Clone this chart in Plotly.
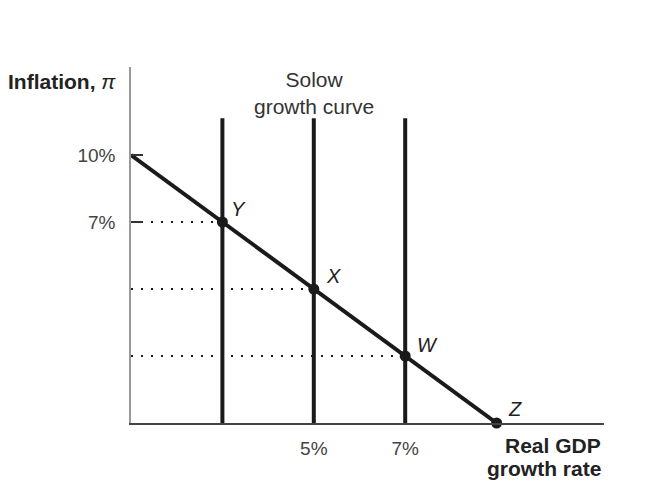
import plotly.graph_objects as go

# growth rate (%) and inflation (%) along the aggregate demand line
ad_growth = [1, 3, 5, 7, 9]
ad_inflation = [10, 7, 4, 1, -2]

# labelled points on the line
point_names = ["Y", "X", "W", "Z"]
point_growth = [3, 5, 7, 9]
point_inflation = [7, 4, 1, -2]

# Solow growth curves (vertical lines)
solow_growth = [3, 5, 7]
solow_top = 11.65
axis_floor = -2

y_tickvals = [10, 7]
y_ticktext = ["10%", "7%"]
x_tickvals = [5, 7]
x_ticktext = ["5%", "7%"]

INK = "#1a1a1a"
FONT = "Liberation Sans, Arial, sans-serif"

fig = go.Figure()

# dotted guides from the inflation axis to Y, X, W
for g, inf in zip(point_growth[:3], point_inflation[:3]):
    fig.add_trace(go.Scatter(
        x=[ad_growth[0], g], y=[inf, inf], mode="lines",
        line=dict(color=INK, width=2, dash="2px,8px"),
        hoverinfo="skip", showlegend=False,
    ))

# Solow growth curves
for g in solow_growth:
    fig.add_trace(go.Scatter(
        x=[g, g], y=[axis_floor, solow_top], mode="lines",
        line=dict(color=INK, width=4),
        hoverinfo="skip", showlegend=False,
    ))

# aggregate demand line
fig.add_trace(go.Scatter(
    x=ad_growth, y=ad_inflation, mode="lines",
    line=dict(color=INK, width=4),
    hoverinfo="skip", showlegend=False, cliponaxis=False,
))

# points
fig.add_trace(go.Scatter(
    x=point_growth, y=point_inflation, mode="markers",
    marker=dict(color=INK, size=11),
    hoverinfo="skip", showlegend=False, cliponaxis=False,
))

# point labels
offsets = {"Y": (16, -13), "X": (20, -13), "W": (22, -11), "Z": (18, -14)}
for name, g, inf in zip(point_names, point_growth, point_inflation):
    dx, dy = offsets[name]
    fig.add_annotation(
        x=g, y=inf, text="<i>%s</i>" % name, showarrow=False,
        xshift=dx, yshift=-dy,
        font=dict(family=FONT, size=20, color="#222"),
    )

fig.add_annotation(
    xref="paper", yref="paper", x=-0.264, y=0.958,
    xanchor="left", yanchor="middle", showarrow=False,
    text="<b>Inflation,</b> <i>π</i>",
    font=dict(family=FONT, size=21, color="#222"),
)
fig.add_annotation(
    x=5, xref="x", yref="paper", y=0.927,
    xanchor="center", yanchor="middle", showarrow=False,
    text="Solow<br>growth curve",
    font=dict(family=FONT, size=21, color="#333"),
)
# x-axis title, one annotation per line so it sits tight to the bottom
for line, ypos in [("Real GDP", -0.0646), ("growth rate", -0.129)]:
    fig.add_annotation(
        xref="paper", yref="paper", x=0.998, y=ypos,
        xanchor="right", yanchor="middle", showarrow=False,
        text="<b>%s</b>" % line,
        font=dict(family=FONT, size=21, color="#222"),
    )

# the page body adds 8px of margin, so the figure is 8px smaller
fig.update_layout(
    width=642, height=475,
    margin=dict(l=123, r=46, t=59, b=60),
    plot_bgcolor="white", paper_bgcolor="white",
    showlegend=False,
    xaxis=dict(
        range=[1, 11.35], showgrid=False, zeroline=False,
        showline=True, linecolor="#444", linewidth=1.5,
        tickvals=x_tickvals, ticktext=x_ticktext, ticks="",
        ticklabelstandoff=7,
        tickfont=dict(family=FONT, size=19, color="#444"),
    ),
    yaxis=dict(
        range=[axis_floor, 13.94], showgrid=False, zeroline=False,
        showline=True, linecolor="#999", linewidth=1.5,
        tickvals=y_tickvals, ticktext=y_ticktext,
        ticks="inside", ticklen=12, tickwidth=1.5, tickcolor="#333",
        ticklabelstandoff=10,
        tickfont=dict(family=FONT, size=19, color="#444"),
    ),
)

fig.write_html("out.html")
